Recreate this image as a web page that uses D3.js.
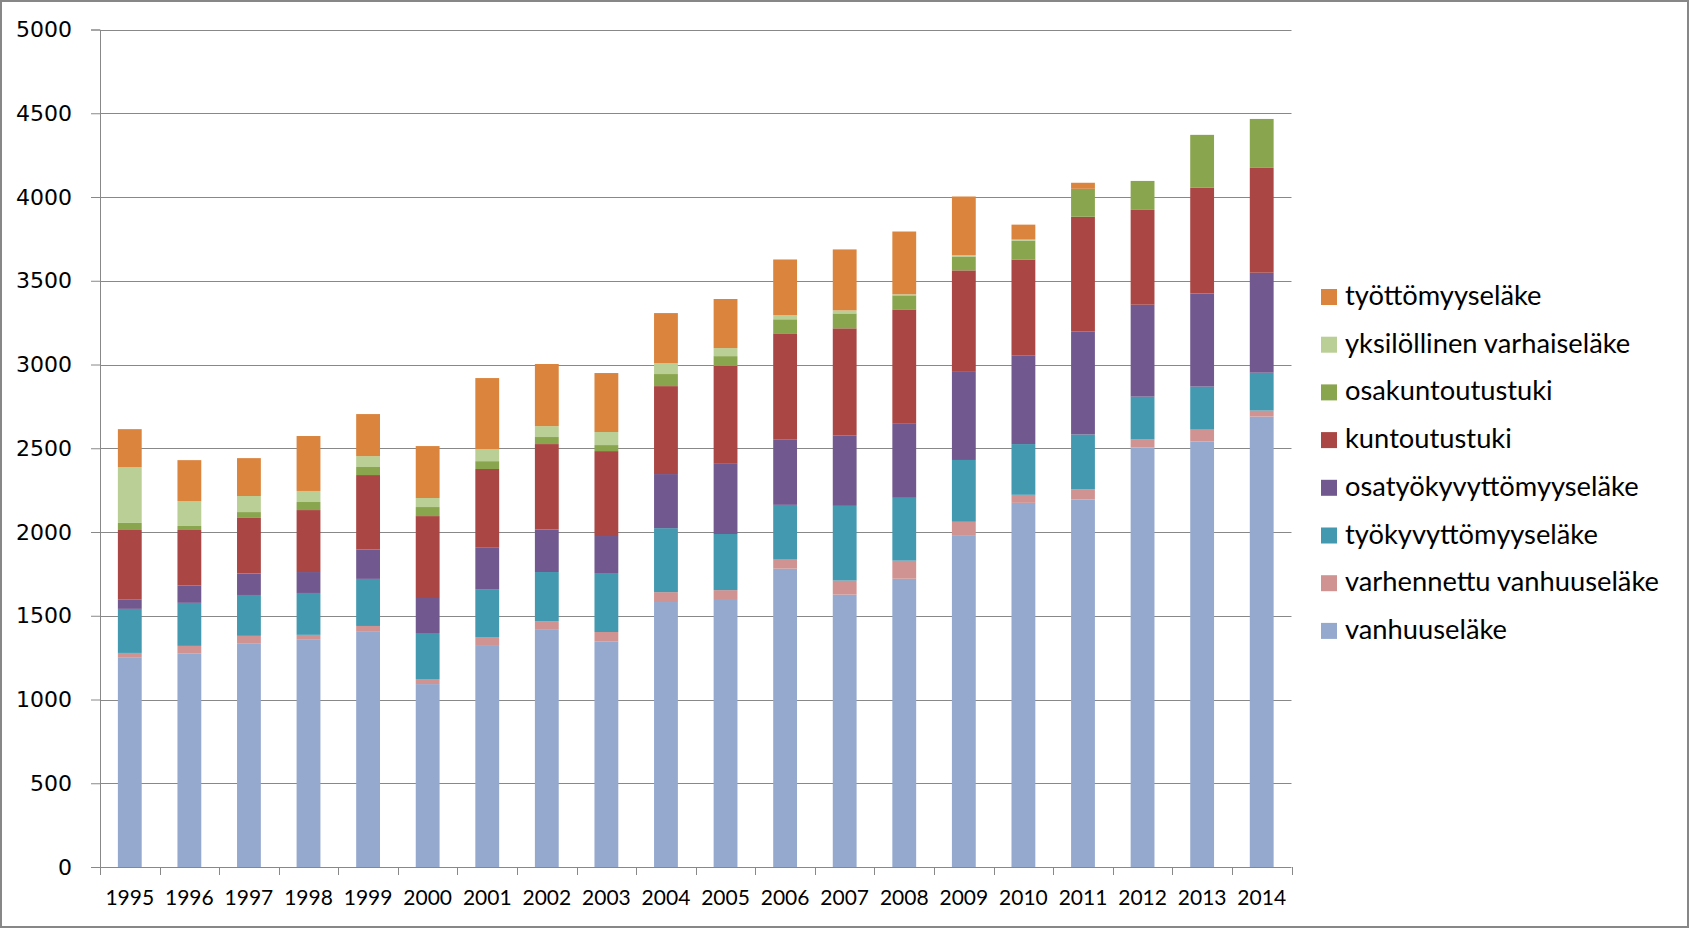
<!DOCTYPE html>
<html>
<head>
<meta charset="utf-8">
<script src="https://cdn.jsdelivr.net/npm/d3@7"></script>
<style>
  html, body { margin: 0; padding: 0; background: #fff; }
  svg { display: block; }
</style>
</head>
<body>
<svg id="chart" width="1689" height="928"></svg>
<script>
// ---- data ----
const years = ["1995","1996","1997","1998","1999","2000","2001","2002","2003","2004",
               "2005","2006","2007","2008","2009","2010","2011","2012","2013","2014"];
const vanhuuselake      = [1249,1276,1336,1360,1408,1092,1325,1420,1345,1582,1600,1781,1626,1721,1977,2174,2194,2504,2540,2689];
const varhennettu       = [29,44,44,26,31,30,48,48,58,59,53,54,84,108,84,48,60,48,71,36];
const tyokyvyttomyys    = [263,257,244,250,281,275,286,293,352,382,335,327,446,375,369,303,328,256,257,226];
const osatyokyvyttomyys = [55,103,128,125,175,209,247,254,221,323,419,389,419,442,526,530,616,549,556,597];
const kuntoutustuki     = [416,332,332,370,445,489,470,510,507,525,584,635,641,683,606,572,684,566,631,626];
const osakuntoutustuki  = [42,24,35,48,48,54,47,42,36,72,59,84,89,84,83,113,167,173,316,292];
const yksilollinen      = [334,149,96,66,65,54,72,65,78,65,48,24,18,6,8,6,0,0,0,0];
const tyottomyys        = [226,244,226,328,251,310,424,371,352,299,293,333,364,375,350,89,36,0,0,0];
const yTicks = [0,500,1000,1500,2000,2500,3000,3500,4000,4500,5000];

// series bottom -> top
const seriesNames = ["vanhuuseläke","varhennettu vanhuuseläke","työkyvyttömyyseläke",
  "osatyökyvyttömyyseläke","kuntoutustuki","osakuntoutustuki","yksilöllinen varhaiseläke","työttömyyseläke"];
const seriesValues = [vanhuuselake,varhennettu,tyokyvyttomyys,osatyokyvyttomyys,
  kuntoutustuki,osakuntoutustuki,yksilollinen,tyottomyys];
const colors = ["#95A9CF","#D19392","#4299B0","#71598F","#AA4643","#89A54E","#BACF96","#DB843D"];

(function () {
// ---- build table ----
const table = years.map((yr, i) => {
  const row = { year: yr };
  seriesNames.forEach((s, k) => row[s] = seriesValues[k][i]);
  return row;
});
const stacked = d3.stack().keys(seriesNames)(table);

const svg = d3.select("#chart");
const mLeft = 100, mRight = 1291.5, mTop = 29.5, mBottom = 867;
const gridColor = "#888888";

const x = d3.scaleBand().domain(years).range([mLeft, mRight]).paddingInner(0.6).paddingOuter(0.3);
const y = d3.scaleLinear().domain([0, 5000]).range([mBottom, mTop]);
const color = d3.scaleOrdinal().domain(seriesNames).range(colors);

// outer border
svg.append("rect").attr("x", 1).attr("y", 1).attr("width", 1687).attr("height", 926)
  .attr("fill", "#fff").attr("stroke", "#878787").attr("stroke-width", 2);

// gridlines
svg.append("g").selectAll("line").data(yTicks.filter(d => d > 0)).join("line")
  .attr("x1", mLeft).attr("x2", mRight)
  .attr("y1", d => Math.round(y(d)) + 0.5).attr("y2", d => Math.round(y(d)) + 0.5)
  .attr("stroke", gridColor).attr("stroke-width", 1);

// bars
svg.append("g").selectAll("g").data(stacked).join("g")
  .attr("fill", d => color(d.key))
  .selectAll("rect").data(d => d).join("rect")
  .attr("x", d => x(d.data.year))
  .attr("width", x.bandwidth())
  .attr("y", d => y(d[1]))
  .attr("height", d => Math.max(0, y(d[0]) - y(d[1])));

// y axis
const yAxis = svg.append("g").attr("transform", `translate(${mLeft},0)`)
  .call(d3.axisLeft(y).tickValues(yTicks).tickSize(9).tickPadding(19).tickFormat(d3.format("d")));
yAxis.select(".domain").attr("stroke", gridColor);
yAxis.selectAll(".tick line").attr("stroke", gridColor);
yAxis.selectAll(".tick text").attr("font-family", "'DejaVu Sans', sans-serif")
  .attr("font-size", 22).attr("fill", "#000");

// x axis (labels)
const xAxis = svg.append("g").attr("transform", `translate(0,${mBottom})`)
  .call(d3.axisBottom(x).tickSize(0).tickPadding(23));
xAxis.select(".domain").remove();
xAxis.selectAll(".tick text").attr("font-family", "Lato, sans-serif")
  .attr("font-size", 21).attr("fill", "#000");
// x axis line + tick marks at band boundaries
const step = x.step();
const x0 = x(years[0]) - step * x.paddingOuter();
svg.append("line").attr("x1", mLeft).attr("x2", mRight)
  .attr("y1", mBottom + 0.5).attr("y2", mBottom + 0.5).attr("stroke", gridColor);
svg.append("g").selectAll("line").data(d3.range(years.length + 1)).join("line")
  .attr("x1", i => Math.round(x0 + i * step) + 0.5).attr("x2", i => Math.round(x0 + i * step) + 0.5)
  .attr("y1", mBottom).attr("y2", mBottom + 8).attr("stroke", gridColor);

// legend (top -> bottom is reverse of stacking order)
const legendItems = seriesNames.slice().reverse();
const legend = svg.append("g");
const rowY = i => 297 + i * 47.7;
legendItems.forEach((name, i) => {
  legend.append("rect").attr("x", 1321).attr("y", rowY(i) - 8).attr("width", 16).attr("height", 16)
    .attr("fill", color(name));
  legend.append("text").attr("x", 1345).attr("y", rowY(i) + 8)
    .attr("font-family", "Lato, sans-serif").attr("font-size", 26).attr("fill", "#000")
    .text(name);
});
// fit legend font size to the reference width of the longest label
const texts = legend.selectAll("text");
let maxW = 0;
texts.each(function () { maxW = Math.max(maxW, this.getComputedTextLength()); });
if (maxW > 0) texts.attr("font-size", 26 * 314 / maxW);
})();
</script>
</body>
</html>
